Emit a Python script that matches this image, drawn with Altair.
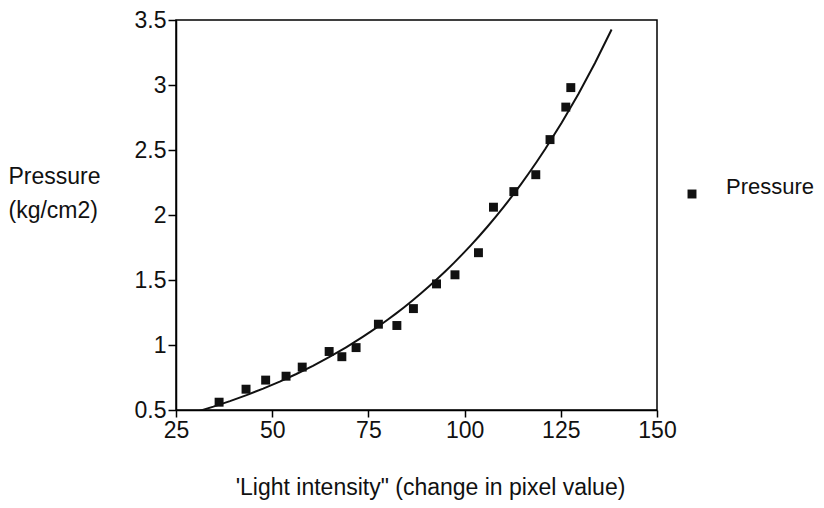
import altair as alt
import pandas as pd

light = [36.2, 43.2, 48.3, 53.6, 57.8, 64.8, 68.1, 71.8, 77.6, 82.4, 86.7,
         92.7, 97.5, 103.6, 107.5, 112.8, 118.5, 122.2, 126.3, 127.6]
pressure = [0.56, 0.66, 0.73, 0.76, 0.83, 0.95, 0.91, 0.98, 1.16, 1.15, 1.28,
            1.47, 1.54, 1.71, 2.06, 2.18, 2.31, 2.58, 2.83, 2.98]
series = ["Pressure"] * len(light)
x_ticks = [25, 50, 75, 100, 125, 150]
y_ticks = [0.5, 1, 1.5, 2, 2.5, 3, 3.5]
fit_extent = [30.4, 138.2]

df = pd.DataFrame({"light": light, "pressure": pressure, "series": series})

FONT = "Liberation Sans"
FS = 23
INK = "#111"

xscale = alt.Scale(domain=[25, 150], nice=False, zero=False)
yscale = alt.Scale(domain=[0.5, 3.5], nice=False, zero=False)

xaxis = alt.Axis(values=x_ticks, title="'Light intensity\" (change in pixel value)",
                 grid=False, domainColor="black", domainWidth=1.5, tickColor="black",
                 tickWidth=1.5, tickSize=7,
                 labelFontSize=FS, labelColor=INK, labelFont=FONT, labelPadding=2,
                 labelFlush=False,
                 titleFont=FONT, titleFontSize=FS, titleFontWeight="normal",
                 titleColor=INK, titleX=254, titleY=84, titleBaseline="alphabetic",
                 titleAnchor="middle")
yaxis = alt.Axis(values=y_ticks, labelExpr="datum.value",
                 title=["Pressure", "(kg/cm2)"], titleAngle=0, titleAlign="left",
                 titleBaseline="alphabetic", titleX=-168, titleY=163, titleLineHeight=34,
                 grid=False, domainColor="black", domainWidth=1.5, tickColor="black",
                 tickWidth=1.5, tickSize=8,
                 labelFontSize=FS, labelColor=INK, labelFont=FONT, labelPadding=2,
                 titleFont=FONT, titleFontSize=FS, titleFontWeight="normal",
                 titleColor=INK)

points = alt.Chart(df).mark_point(shape="square", filled=True, size=80, opacity=1).encode(
    x=alt.X("light:Q", scale=xscale, axis=xaxis),
    y=alt.Y("pressure:Q", scale=yscale, axis=yaxis),
    color=alt.Color("series:N", scale=alt.Scale(range=[INK]),
                    legend=alt.Legend(title=None, orient="none", legendX=505, legendY=163,
                                      padding=0, symbolType="square", symbolSize=80,
                                      symbolStrokeWidth=0,
                                      labelFont=FONT, labelFontSize=22, labelColor=INK,
                                      labelBaseline="alphabetic", labelOffset=23)),
)

curve = alt.Chart(df).transform_regression(
    "light", "pressure", method="exp", extent=fit_extent
).mark_line(color=INK, strokeWidth=2, clip=True).encode(
    x=alt.X("light:Q", scale=xscale),
    y=alt.Y("pressure:Q", scale=yscale),
)

chart = alt.layer(curve, points).properties(
    width=481, height=390,
    padding={"left": 176, "top": 20, "right": 167, "bottom": 98},
    autosize=alt.AutoSizeParams(type="none"),
    background="white",
).configure_view(stroke="black", strokeWidth=1.5)

chart.save("out.html", embed_options={"renderer": "svg", "actions": False})
